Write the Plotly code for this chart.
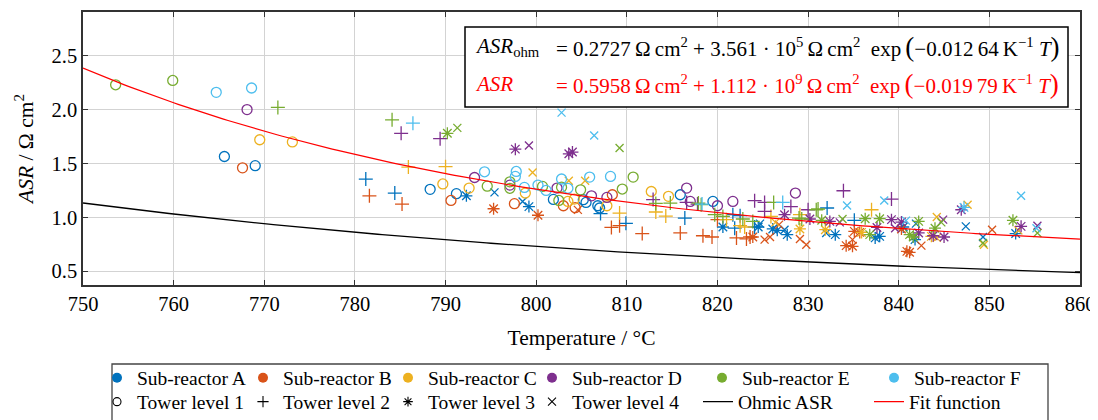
import numpy as np
import plotly.graph_objects as go

# ---------------- data ----------------
T_MIN, T_MAX = 750, 860
X_TICKS = [750, 760, 770, 780, 790, 800, 810, 820, 830, 840, 850, 860]
Y_TICKS = [0.5, 1.0, 1.5, 2.0, 2.5]
Y_TICK_LABELS = ["0.5", "1.0", "1.5", "2.0", "2.5"]

# fit parameters (shown in the chart)
OHM_A, OHM_B, OHM_C = 0.2727, 3.561e5, 0.01264
FIT_A, FIT_B, FIT_C = 0.5958, 1.112e9, 0.01979

SUB_REACTORS = ["A", "B", "C", "D", "E", "F"]
TOWER_LEVELS = [1, 2, 3, 4]

# (temperature / °C, ASR / Ohm cm2) per sub-reactor and tower level
A1 = [(765.6, 1.565), (769.0, 1.48), (788.3, 1.26), (791.2, 1.22), (801.9, 1.167), (805.2, 1.164),
      (805.5, 1.139), (806.8, 1.108), (807.0, 1.087), (815.9, 1.21), (819.5, 1.148)]
A2 = [(781.2, 1.355), (784.4, 1.226), (807.1, 1.035), (809.9, 0.945), (816.4, 0.994), (821.7, 1.025),
      (822.5, 1.016), (821.9, 0.90), (824.1, 0.911), (832.1, 1.087), (835.1, 0.973)]
A3 = [(792.3, 1.20), (799.2, 1.10), (820.6, 0.911), (824.5, 0.911), (826.1, 0.893), (826.6, 0.88),
      (827.7, 0.84), (833.0, 0.84), (837.4, 0.81), (837.9, 0.824), (840.5, 0.911), (841.8, 0.794),
      (852.9, 0.85)]
A4 = [(795.4, 1.232), (798.5, 1.148), (824.7, 0.942), (827.4, 0.886), (832.0, 0.856), (841.9, 0.942),
      (847.4, 0.917), (849.3, 0.818)]

B1 = [(767.6, 1.46), (790.6, 1.157), (797.6, 1.127), (803.0, 1.108), (804.3, 1.09), (808.4, 1.21)]
B2 = [(781.6, 1.20), (785.2, 1.124), (808.3, 0.907), (809.2, 0.923), (811.7, 0.85), (815.9, 0.856),
      (818.4, 0.83), (819.4, 0.818), (820.0, 0.98), (822.1, 0.81), (823.2, 0.80), (823.6, 0.818)]
B3 = [(795.3, 1.08), (800.2, 1.02), (823.9, 0.818), (835.1, 0.87), (835.7, 0.861), (834.2, 0.738),
      (834.9, 0.732), (840.9, 0.685), (841.2, 0.676), (840.3, 0.893)]
B4 = [(804.6, 1.07), (825.2, 0.794), (825.8, 0.818), (826.8, 0.933), (829.1, 0.80), (829.8, 0.747),
      (834.9, 0.794), (842.5, 0.738), (850.3, 0.886)]

C1 = [(769.5, 1.72), (773.1, 1.70), (789.7, 1.31), (792.6, 1.272), (798.8, 1.226), (803.5, 1.148),
      (804.2, 1.17), (807.8, 1.108), (812.7, 1.24), (814.6, 1.195)]
C2 = [(785.9, 1.467), (790.0, 1.47), (809.2, 1.04), (813.2, 1.05), (814.3, 1.012), (821.0, 0.979),
      (822.5, 0.923), (823.0, 0.911), (825.9, 1.009), (829.1, 1.025), (837.0, 1.071)]
C3 = [(829.1, 0.893), (831.9, 0.886), (835.9, 0.861), (843.6, 0.824)]
C4 = [(799.6, 1.417), (803.6, 1.34), (805.4, 1.34), (826.4, 0.954), (844.2, 1.004), (847.6, 1.118),
      (849.4, 0.747), (853.2, 0.88), (844.2, 0.81)]

D1 = [(768.1, 2.00), (793.2, 1.37), (797.1, 1.30), (802.3, 1.272), (806.1, 1.20), (807.8, 1.185),
      (816.6, 1.272), (817.0, 1.148), (820.0, 1.108), (821.7, 1.148), (828.6, 1.226)]
D2 = [(785.1, 1.78), (789.4, 1.73), (812.9, 1.165), (816.6, 1.139), (817.8, 1.124), (824.1, 1.155),
      (825.2, 1.139), (825.2, 1.056), (828.1, 1.10), (830.0, 1.071), (833.9, 1.247), (839.2, 1.17)]
D3 = [(797.7, 1.633), (803.6, 1.59), (804.0, 1.606), (827.4, 1.025), (830.2, 0.985), (832.4, 0.963),
      (837.6, 0.907), (839.2, 0.979), (840.3, 0.957), (842.2, 0.856), (843.8, 0.83), (845.0, 0.818),
      (846.9, 1.071), (853.5, 0.917)]
D4 = [(799.2, 1.667), (833.5, 0.954), (839.6, 0.90), (844.9, 0.979), (855.3, 0.923)]

E1 = [(753.6, 2.23), (759.9, 2.27), (794.6, 1.29), (797.1, 1.33), (797.1, 1.27), (800.7, 1.287),
      (802.8, 1.28), (802.5, 1.157), (804.9, 1.256), (809.5, 1.263), (810.7, 1.374)]
E2 = [(771.5, 2.02), (784.1, 1.905), (813.2, 1.13), (814.8, 1.133), (817.9, 1.133), (818.2, 1.118),
      (819.7, 1.025), (820.6, 1.009), (822.8, 0.985), (823.9, 0.963), (826.2, 1.139), (829.0, 0.994),
      (829.3, 0.985), (830.9, 1.071), (831.1, 1.078)]
E3 = [(790.2, 1.78), (831.5, 0.973), (836.3, 0.988), (836.8, 0.84), (837.9, 0.988), (841.2, 0.84),
      (841.6, 0.818), (842.2, 0.963), (844.0, 0.90), (852.6, 0.973)]
E4 = [(791.3, 1.83), (809.2, 1.643), (833.8, 0.985), (844.7, 0.954), (849.3, 0.763), (855.3, 0.856)]

F1 = [(764.7, 2.16), (768.6, 2.20), (794.3, 1.423), (797.8, 1.426), (797.7, 1.38), (798.7, 1.278),
      (800.2, 1.30), (801.1, 1.25), (802.8, 1.356), (803.5, 1.27), (805.9, 1.374), (808.2, 1.38)]
F2 = [(786.4, 1.874), (818.3, 1.124), (827.2, 1.139)]
F3 = [(847.2, 1.093)]
F4 = [(802.8, 1.972), (806.4, 1.76), (834.3, 1.111), (838.4, 1.157), (840.8, 0.97), (853.5, 1.20),
      (855.2, 0.90)]

DATA = {
    "A": [A1, A2, A3, A4], "B": [B1, B2, B3, B4], "C": [C1, C2, C3, C4],
    "D": [D1, D2, D3, D4], "E": [E1, E2, E3, E4], "F": [F1, F2, F3, F4],
}

# ---------------- styles ----------------
COLORS = {"A": "#0072BD", "B": "#D95319", "C": "#EDB120",
          "D": "#7E2F8E", "E": "#77AC30", "F": "#4DBEEE"}
SYMBOLS = {1: "circle-open", 2: "cross-thin-open", 3: "asterisk-open", 4: "x-thin-open"}
SIZES = {1: 10, 2: 10, 3: 10, 4: 8}
FONT = "Liberation Serif"

# the page body has an 8 px margin; the figure is sized so that the plot area
# sits at x 83..1080, y 12..285 of the window
OFF = 8
W, H = 1090, 412
ML, MR, MT, MB = 83 - OFF, 18, 12 - OFF, OFF + H - 285
PW, PH = W - ML - MR, H - MT - MB
PLOT_L, PLOT_B = 83, 285


def px2paper_x(px):
    return (px - PLOT_L) / PW


def px2paper_y(py):
    return (PLOT_B - py) / PH


fig = go.Figure()

# curves
T = np.linspace(T_MIN, T_MAX, 221)
TK = T + 273.15
asr_ohm = OHM_A + OHM_B * np.exp(-OHM_C * TK)
asr_fit = FIT_A + FIT_B * np.exp(-FIT_C * TK)

# data points
for s in SUB_REACTORS:
    for lvl, pts in zip(TOWER_LEVELS, DATA[s]):
        fig.add_trace(go.Scatter(
            x=[p[0] for p in pts], y=[p[1] for p in pts], mode="markers",
            marker=dict(symbol=SYMBOLS[lvl], size=SIZES[lvl], color=COLORS[s],
                        line=dict(color=COLORS[s], width=1.3)),
            showlegend=False, hoverinfo="x+y"))

fig.add_trace(go.Scatter(x=T, y=asr_ohm, mode="lines", line=dict(color="black", width=1.3),
                         name="Ohmic ASR", legend="legend11"))
fig.add_trace(go.Scatter(x=T, y=asr_fit, mode="lines", line=dict(color="#FF0000", width=1.2),
                         name="Fit function", legend="legend12"))

# legend-only entries
legend_pos = {}
row1_y = px2paper_y(378)
row2_y = px2paper_y(402)
row1_x = [97, 243, 388, 532, 702, 874]
row2_x = [97, 243, 388, 532, 698, 869]
for i, s in enumerate(SUB_REACTORS):
    name = f"legend{i + 1}" if i > 0 else "legend"
    fig.add_trace(go.Scatter(x=[None], y=[None], mode="markers", name=f"Sub-reactor {s}",
                             marker=dict(symbol="circle", size=10, color=COLORS[s]),
                             legend=name))
    legend_pos[name] = (row1_x[i], row1_y)
for i, lvl in enumerate(TOWER_LEVELS):
    name = f"legend{i + 7}"
    fig.add_trace(go.Scatter(x=[None], y=[None], mode="markers", name=f"Tower level {lvl}",
                             marker=dict(symbol=SYMBOLS[lvl], size=8, color="black",
                                         line=dict(color="black", width=1.1)),
                             legend=name))
    legend_pos[name] = (row2_x[i], row2_y)
legend_pos["legend11"] = (row2_x[4], row2_y)
legend_pos["legend12"] = (row2_x[5], row2_y)

leg_layout = {}
for name, (lx, ly) in legend_pos.items():
    leg_layout[name] = dict(x=px2paper_x(lx), y=ly, xanchor="left", yanchor="middle",
                            bgcolor="rgba(0,0,0,0)", borderwidth=0,
                            font=dict(family=FONT, size=19.5, color="black"))
fig.update_layout(**leg_layout)

axis_common = dict(showline=True, linecolor="#333333", linewidth=1.5, mirror="ticks",
                   ticks="inside", ticklen=5, tickcolor="#333333", tickwidth=1.3,
                   showgrid=True, gridcolor="#d3d3d3", gridwidth=1.2, zeroline=False,
                   automargin=False,
                   tickfont=dict(family=FONT, size=20.5, color="black"))
fig.update_xaxes(range=[T_MIN, T_MAX], tickvals=X_TICKS,
                 title=dict(text="Temperature / °C", font=dict(family=FONT, size=21.5), standoff=16),
                 **axis_common)
fig.update_yaxes(range=[0.373, 2.905], tickvals=Y_TICKS, ticktext=Y_TICK_LABELS,
                 title=dict(text="<i>ASR</i> / Ω cm<sup>2</sup>", font=dict(family=FONT, size=21.5),
                            standoff=12),
                 **axis_common)

# formula box
fig.add_shape(type="rect", xref="paper", yref="paper",
              x0=px2paper_x(465), x1=px2paper_x(1068), y0=px2paper_y(107), y1=px2paper_y(27),
              fillcolor="white", line=dict(color="black", width=1.5), layer="above")
NB = "\u00a0"
TH = "\u2009"
BIG_OPEN = '<span style="font-size:27px">(</span>'
BIG_CLOSE = '<span style="font-size:27px">)</span>'


def fmt_line(a, b, c):
    exp = int(np.floor(np.log10(b)))
    mant = b / 10 ** exp
    cs = f"{c:.5f}"  # 0.01264
    cs = cs[:5] + TH + cs[5:]
    return (f"={NB}{a:.4f}{TH}Ω{TH}cm<sup>2</sup>{NB}+{NB}{mant:.3f}{NB}·{NB}10<sup>{exp}</sup>"
            f"{TH}Ω{TH}cm<sup>2</sup>{NB}{NB}exp{TH}{BIG_OPEN}−{cs}{TH}K<sup>−1</sup>{NB}<i>T</i>{BIG_CLOSE}")


annots = [
    dict(text="<i>ASR</i><sub>ohm</sub>", x=473, y=47, color="black"),
    dict(text="<i>ASR</i>", x=473, y=84, color="#FF0000"),
    dict(text=fmt_line(OHM_A, OHM_B, OHM_C), x=554, y=47, color="black"),
    dict(text=fmt_line(FIT_A, FIT_B, FIT_C), x=554, y=84, color="#FF0000"),
]
for a in annots:
    fig.add_annotation(text=a["text"], xref="paper", yref="paper",
                       x=px2paper_x(a["x"]), y=px2paper_y(a["y"]), xanchor="left", yanchor="middle",
                       showarrow=False, font=dict(family=FONT, size=21, color=a["color"]))

# legend frame
fig.add_shape(type="rect", xref="paper", yref="paper",
              x0=px2paper_x(112), x1=px2paper_x(1048), y0=px2paper_y(440), y1=px2paper_y(364),
              line=dict(color="#444444", width=1.3), fillcolor="rgba(0,0,0,0)")

fig.update_layout(width=W, height=H, autosize=False,
                  margin=dict(l=ML, r=MR, t=MT, b=MB, autoexpand=False),
                  paper_bgcolor="white", plot_bgcolor="white",
                  font=dict(family=FONT, size=20, color="black"))

fig.write_html("out.html")
